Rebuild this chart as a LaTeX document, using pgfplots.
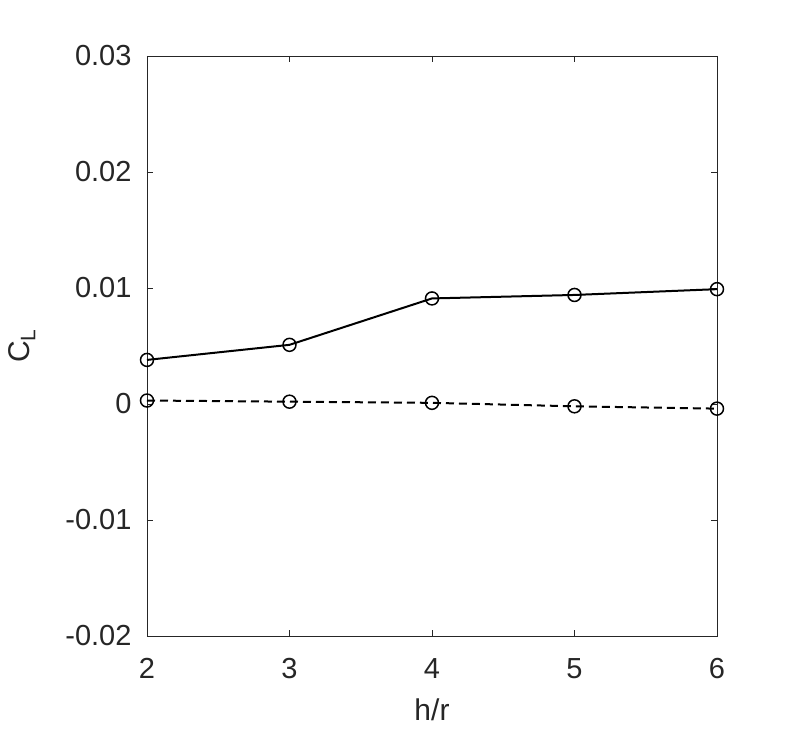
\documentclass[border=0pt]{standalone}
\usepackage{pgfplots}
\pgfplotsset{compat=1.18}
\usepackage{fontspec}
\setmainfont{Liberation Sans}
\definecolor{axgray}{RGB}{38,38,38}
\begin{document}
\begin{tikzpicture}[x=1pt,y=1pt]
\useasboundingbox (0,0) rectangle (793,733);
\begin{axis}[
  at={(147pt,97pt)}, anchor=south west,
  scale only axis, width=570pt, height=580pt,
  xmin=2, xmax=6, ymin=-0.02, ymax=0.03,
  xtick={2,3,4,5,6},
  ytick={-0.02,-0.01,0,0.01,0.02,0.03},
  yticklabels={-0.02,-0.01,0,0.01,0.02,0.03},
  scaled y ticks=false,
  tick align=inside,
  major tick length=6pt,
  axis line style={axgray, line width=0.8pt},
  every tick/.style={axgray, line width=0.8pt},
  tick label style={font=\fontsize{29}{33}\selectfont, text=axgray},
  /pgf/number format/assume math mode=true,
  xticklabel style={yshift=-19pt},
  yticklabel style={xshift=-12pt},
  xlabel={h/r},
  ylabel={C\textsubscript{L}},
  label style={font=\fontsize{30}{34}\selectfont, text=axgray},
  xlabel style={at={(axis description cs:0.5,0)}, anchor=north, yshift=-59pt},
  ylabel style={at={(axis description cs:0,0.5)}, anchor=south, xshift=0pt, yshift=108pt},
]
\addplot[black, line width=2pt, mark=o, mark size=6.5pt, mark options={solid, line width=1.5pt}]
coordinates {(2,0.0038) (3,0.0051) (4,0.0091) (5,0.0094) (6,0.0099)};
\addplot[black, line width=2pt, dashed, dash pattern=on 8pt off 5pt, mark=o, mark size=6.5pt, mark options={solid, line width=1.5pt}]
coordinates {(2,0.0003) (3,0.0002) (4,0.0001) (5,-0.0002) (6,-0.0004)};
\end{axis}
\end{tikzpicture}
\end{document}
